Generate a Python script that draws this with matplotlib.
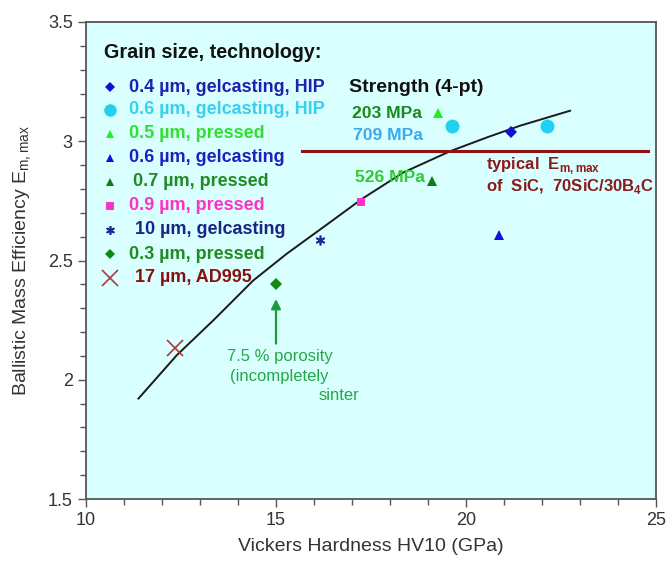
import matplotlib
matplotlib.use("Agg")
import matplotlib.pyplot as plt
from matplotlib.ticker import MultipleLocator

plt.rcParams['font.family'] = ['Liberation Sans', 'DejaVu Sans']
plt.rcParams['mathtext.fontset'] = 'custom'
plt.rcParams['mathtext.rm'] = 'Liberation Sans'
plt.rcParams['mathtext.bf'] = 'Liberation Sans:bold'

# ---- data ----
labels = ["0.4 µm, gelcasting, HIP", "0.6 µm, gelcasting, HIP", "0.5 µm, pressed",
          "0.6 µm, gelcasting", "0.7 µm, pressed", "0.9 µm, pressed",
          "10 µm, gelcasting", "0.3 µm, pressed", "17 µm, AD995"]
hardness = [[21.18], [19.62, 22.13], [19.27], [20.87], [19.1], [17.24], [16.16], [15.0], [12.34]]
efficiency = [[3.04], [3.065, 3.065], [3.12], [2.605], [2.835], [2.747], [2.588], [2.40], [2.132]]

curve_x = [11.38, 12.39, 13.35, 14.40, 15.28, 16.42, 17.26, 18.35, 19.58, 20.55, 21.42, 22.74]
curve_y = [1.921, 2.103, 2.249, 2.416, 2.528, 2.660, 2.758, 2.869, 2.958, 3.016, 3.065, 3.128]

typical_level = 2.96
typical_range = [15.68, 24.8]

marker_styles = ['D', 'o', '^', '^', '^', 's', (6, 2, 0), 'D', 'x']
marker_colors = ['#1010d0', '#20d0f0', '#22ee22', '#1010e0', '#127a12', '#ff30c8', '#1a2a90', '#118811', '#b03838']
marker_sizes = [6, 10, 7, 7, 7, 6, 7, 6, 11]
text_colors = ['#2020b0', '#38d0f0', '#30e030', '#2020c0', '#228a22', '#ff30c8', '#1a2585', '#228a22', '#8a1010']

fig = plt.figure(figsize=(6.69, 5.63), dpi=100)
ax = fig.add_axes([86/669, 1-499/563, 570/669, 477/563])
ax.set_facecolor('#d9ffff')

ax.set_xlim(10, 25)
ax.set_ylim(1.5, 3.5)
ax.xaxis.set_major_locator(MultipleLocator(5))
ax.xaxis.set_minor_locator(MultipleLocator(1))
ax.yaxis.set_major_locator(MultipleLocator(0.5))
ax.yaxis.set_minor_locator(MultipleLocator(0.1))
ax.tick_params(which='major', direction='out', length=6, width=1, color='#555555',
               labelsize=13, labelcolor='#333333')
ax.tick_params(which='minor', direction='out', length=4, width=1, color='#555555')
ax.set_xticks([10, 15, 20, 25])
ax.set_xticklabels(['10', '15', '20', '25'])
ax.set_yticks([1.5, 2, 2.5, 3, 3.5])
ax.set_yticklabels(['1.5', '2', '2.5', '3', '3.5'])
for s in ax.spines.values():
    s.set_color('#555555')
    s.set_linewidth(1.3)

ax.set_xlabel('Vickers Hardness HV10 (GPa)', fontsize=14, color='#333333', labelpad=6)
ax.set_ylabel(r'Ballistic Mass Efficiency E$_{\mathregular{m,max}}$', fontsize=14,
              color='#333333', labelpad=10)

# curve
ax.plot(curve_x, curve_y, color='#1a1a1a', lw=1.4, zorder=2)
# typical level
ax.plot(typical_range, [typical_level, typical_level], color='#8b1515', lw=2.2, zorder=2)

# data points
for i in range(len(labels)):
    mew = 1.2 if marker_styles[i] in ('x', (6, 2, 0)) else 0
    ax.plot(hardness[i], efficiency[i], linestyle='none', marker=marker_styles[i],
            ms=marker_sizes[i], color=marker_colors[i], mew=mew, zorder=3)

def axpos(px, py):
    return ((px - 86) / 570, (499 - py) / 477)

# legend (manual)
tx, ty = axpos(104, 52)
ax.text(tx, ty, 'Grain size, technology:', transform=ax.transAxes, fontsize=14.2,
        fontweight='bold', color='#111111', va='center', ha='left')
entry_y = [87, 110, 134, 158, 182, 206, 230, 254, 278]
text_x = [129, 129, 129, 129, 133, 129, 135, 129, 135]
for i in range(len(labels)):
    mx, my = axpos(110, entry_y[i])
    mew = 1.2 if marker_styles[i] in ('x', (6, 2, 0)) else 0
    ax.plot([mx], [my], transform=ax.transAxes, linestyle='none', marker=marker_styles[i],
            ms=marker_sizes[i] * (0.9 if i != 8 else 1.0), color=marker_colors[i], mew=mew,
            clip_on=False)
    lx, ly = axpos(text_x[i], entry_y[i])
    ax.text(lx, ly, labels[i], transform=ax.transAxes, fontsize=13, fontweight='bold',
            color=text_colors[i], va='center', ha='left')

# strength annotations
def t(px, py, s, color, **kw):
    x, y = axpos(px, py)
    ax.text(x, y, s, transform=ax.transAxes, color=color, va='center', ha='left', **kw)

t(349, 87, 'Strength (4-pt)', '#111111', fontsize=14, fontweight='bold')
t(352, 113, '203 MPa', '#1a8a1a', fontsize=12.6, fontweight='bold')
t(353, 135, '709 MPa', '#3aaaf0', fontsize=12.6, fontweight='bold')
t(355, 178, '526 MPa', '#30cc30', fontsize=12.6, fontweight='bold')
t(486, 166, r'typical  E$_{\mathregular{m,max}}$', '#8b1a1a', fontsize=12, fontweight='bold')
t(486, 186, r'of  SiC,  70SiC/30B$_{\mathregular{4}}$C', '#8b1a1a', fontsize=12, fontweight='bold')

# porosity annotation
ax.annotate('', xy=(15.0, 2.35), xytext=(15.0, 2.14),
            arrowprops=dict(arrowstyle='-|>', color='#1a9a3a', lw=1.6, mutation_scale=14))
t(227, 357, '7.5 % porosity', '#22aa44', fontsize=12)
t(230, 377, '(incompletely', '#22aa44', fontsize=12)
t(319, 395, 'sinter', '#22aa44', fontsize=12)

fig.savefig('out.png', dpi=100, facecolor='white')
